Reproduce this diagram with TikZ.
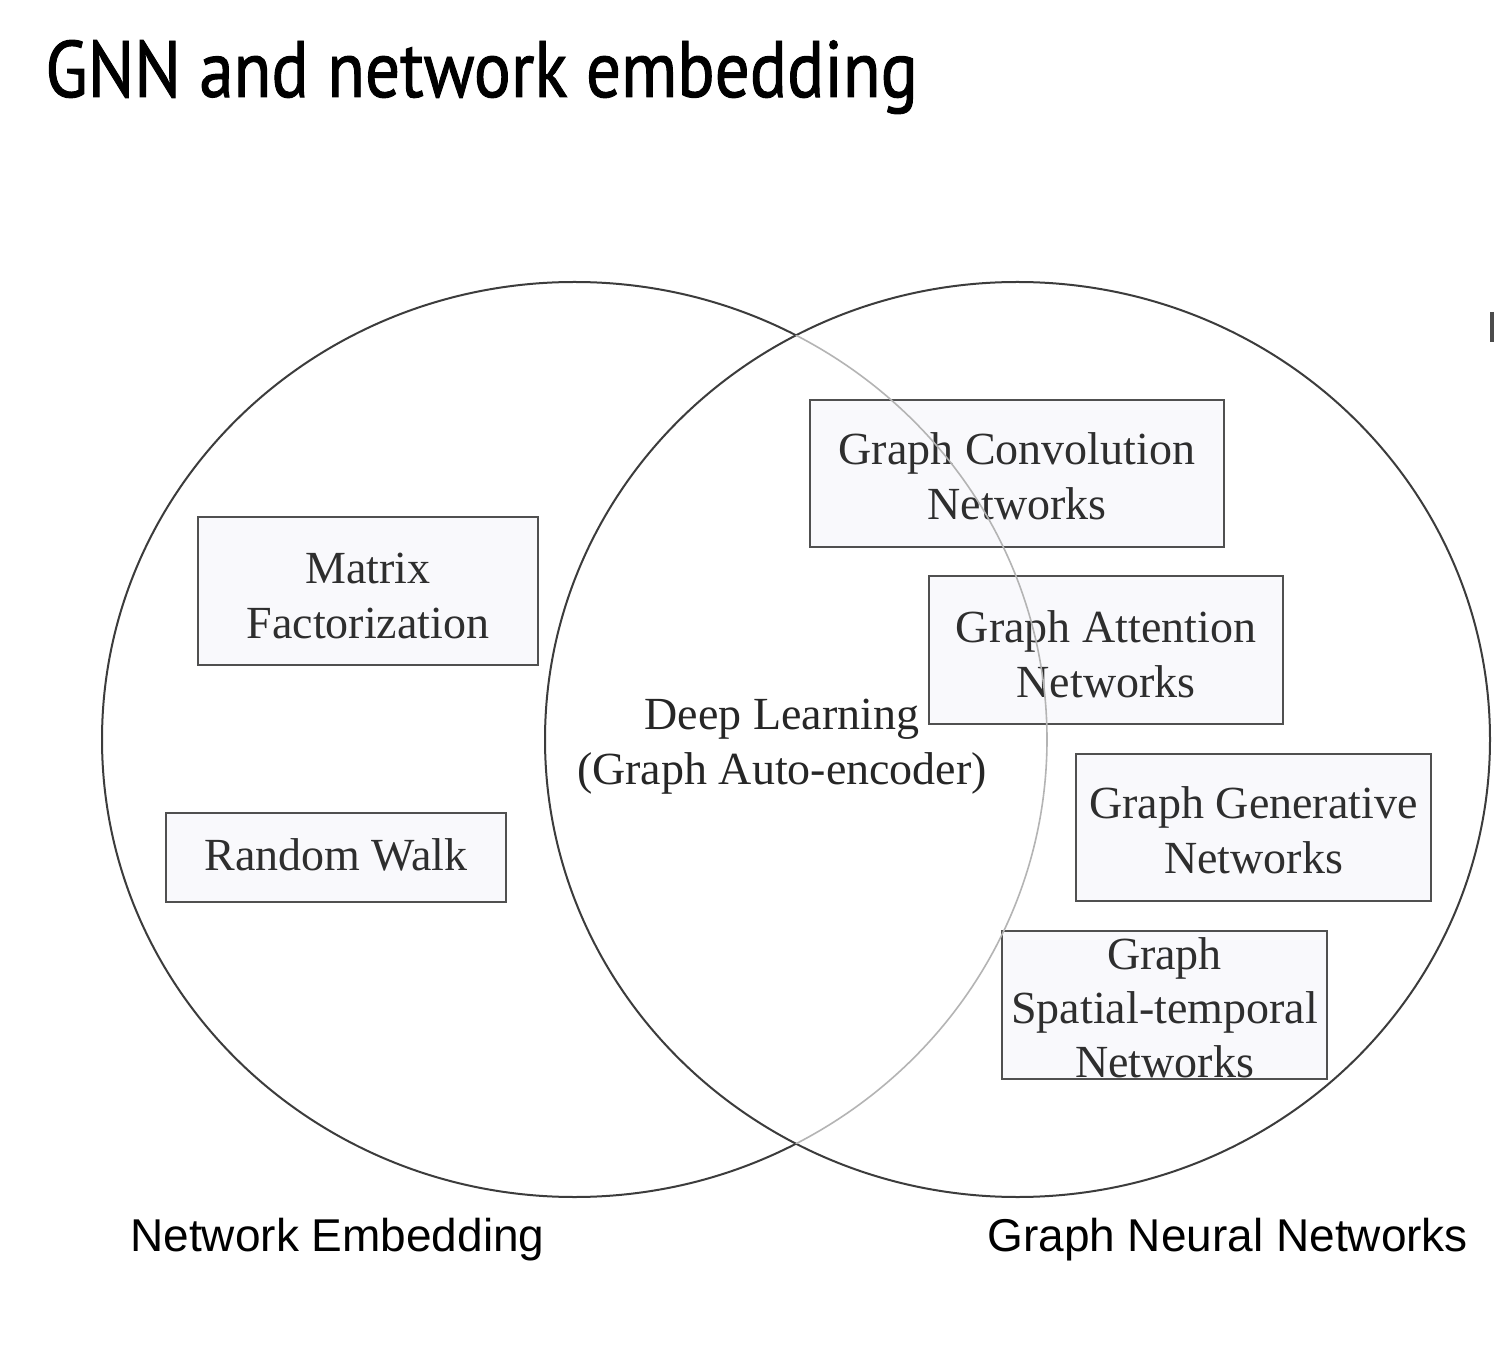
\documentclass[tikz,border=0pt]{standalone}
\usepackage{fontspec}
\setmainfont{Liberation Serif}
\newfontfamily\titlefont[FakeStretch=0.865,FakeBold=1.2]{PT Sans}
\newfontfamily\labelfont{Liberation Sans}
\definecolor{ringgray}{HTML}{3C3C3C}
\definecolor{innergray}{HTML}{B4B4B4}
\definecolor{boxgray}{HTML}{505050}
\definecolor{boxfill}{HTML}{F9F9FC}
\definecolor{txtgray}{HTML}{2E2E2E}
\begin{document}
\begin{tikzpicture}[x=0.5pt,y=-0.5pt,
  ring/.style={draw=ringgray, line width=1pt},
  innerring/.style={draw=innergray, line width=0.8pt},
  box/.style={draw=boxgray, fill=boxfill, line width=1.4pt, inner sep=0pt},
  boxtext/.style={font=\fontsize{23}{27.5}\selectfont, text=txtgray, align=center, inner sep=0pt},
  setlabel/.style={font=\labelfont\fontsize{23}{27}\selectfont, text=black, anchor=base west, inner sep=0pt}]
\useasboundingbox (0,0) rectangle (1494,1352);
\fill[white] (0,0) rectangle (1494,1352);
% title
\node[anchor=base west, inner sep=0pt, font=\titlefont\fontsize{40}{44}\selectfont] (title) at (45,97) {GNN and network embedding};
% left circle, part outside right circle
\begin{scope}[even odd rule]
  \clip (-20,-20) rectangle (1514,1372) (1017.5,739.5) ellipse [x radius=472.5, y radius=457.5];
  \draw[ring] (574.5,739.5) ellipse [x radius=472.5, y radius=457.5];
\end{scope}
% right circle
\draw[ring] (1017.5,739.5) ellipse [x radius=472.5, y radius=457.5];
% boxes
\node[box, minimum width=170pt, minimum height=74pt] (mf) at (368,591) {};
\node[box, minimum width=170pt, minimum height=44.5pt] (rw) at (336,857.5) {};
\node[box, minimum width=207pt, minimum height=73.5pt] (gcn) at (1017,473.5) {};
\node[box, minimum width=177pt, minimum height=74pt] (gan) at (1106,650) {};
\node[box, minimum width=177.5pt, minimum height=73.5pt] (ggn) at (1253.5,827.5) {};
\node[box, minimum width=162.5pt, minimum height=74pt] (gst) at (1164.5,1005) {};
% box texts
\node[boxtext] (mft) at ([yshift=-2.5pt]mf.center) {Matrix\\Factorization};
\node[boxtext] (rwt) at ([yshift=1.5pt]rw.center) {Random Walk};
\node[boxtext] (gcnt) at ([yshift=-1.5pt]gcn.center) {Graph Convolution\\Networks};
\node[boxtext] (gant) at ([yshift=-2pt]gan.center) {Graph Attention\\Networks};
\node[boxtext] (ggnt) at ([yshift=-1.5pt]ggn.center) {Graph Generative\\Networks};
\node[boxtext, font=\fontsize{23}{27}\selectfont] (gstt) at ([yshift=-1.2pt]gst.center) {Graph\\Spatial-temporal\\Networks};
% intersection label
\node[boxtext, text=black!85] (dl) at (782,747) {Deep Learning\\(Graph Auto-encoder)};
% left circle, part inside right circle (light, on top)
\begin{scope}
  \clip (1017.5,739.5) ellipse [x radius=472.5, y radius=457.5];
  \draw[innerring] (574.5,739.5) ellipse [x radius=472.5, y radius=457.5];
\end{scope}
% set labels
\node[setlabel] (ne) at (130,1251) {Network Embedding};
\node[setlabel] (gnn) at (987,1251) {Graph Neural Networks};
% small edge fragment
\coordinate (fa) at (1492,312);
\coordinate (fb) at (1492,342);
\draw[draw=black!70, line width=2pt] (fa) -- (fb);
\end{tikzpicture}
\end{document}
